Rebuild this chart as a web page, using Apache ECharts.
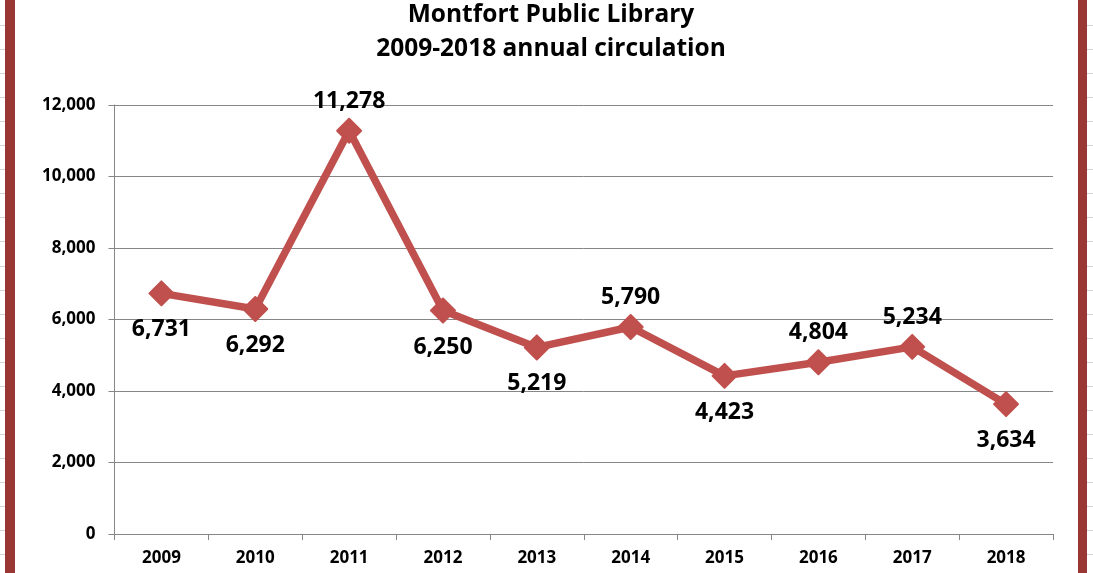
<!DOCTYPE html>
<html><head><meta charset="utf-8">
<script src="https://cdn.jsdelivr.net/npm/echarts@6/dist/echarts.min.js"></script>
<style>html,body{margin:0;padding:0;background:#fff}#c{width:1093px;height:573px}</style>
</head><body><div id="c"></div>
<script>
const years = ['2009','2010','2011','2012','2013','2014','2015','2016','2017','2018'];
const circulation = [6731, 6292, 11278, 6250, 5219, 5790, 4423, 4804, 5234, 3634];
const labelPos = ['bottom','bottom','top','bottom','bottom','top','bottom','top','top','bottom'];
const yTicks = {min: 0, max: 12000, interval: 2000};

const FONT = '"Open Sans", sans-serif';
const chart = echarts.init(document.getElementById('c'));

const deco = [
  {type:'rect', shape:{x:5,y:0,width:10,height:573}, style:{fill:'#9A3735'}, z:10},
  {type:'rect', shape:{x:1078,y:0,width:9,height:573}, style:{fill:'#9A3735'}, z:10}
];
for (let k = 0; k <= 22; k++) {
  const y = Math.round(25 + 24.05 * k) + 0.5;
  deco.push({type:'line', shape:{x1:0,y1:y,x2:5,y2:y}, style:{stroke:'#D4D4D4', lineWidth:1}});
  deco.push({type:'line', shape:{x1:1087,y1:y,x2:1093,y2:y}, style:{stroke:'#D4D4D4', lineWidth:1}});
}

chart.setOption({
  animation:false,
  backgroundColor:'#fff',
  title:{
    text:'Montfort Public Library\n2009-2018 annual circulation',
    left:546, top:-7, textAlign:'center',
    textStyle:{fontFamily:FONT, fontWeight:'bold', fontSize:24.5, color:'#000', lineHeight:34}
  },
  graphic: deco,
  grid:{left:114.5, right:40, top:105, bottom:39},
  xAxis:{
    type:'category', data: years, boundaryGap:true,
    axisLine:{lineStyle:{color:'#868686', width:1}},
    axisTick:{show:true, length:6, alignWithLabel:false, lineStyle:{color:'#868686'}},
    axisLabel:{fontFamily:FONT, fontWeight:'bold', fontSize:17, color:'#000', margin:16}
  },
  yAxis:{
    type:'value', min:yTicks.min, max:yTicks.max, interval:yTicks.interval,
    axisLine:{show:true, lineStyle:{color:'#868686', width:1}},
    axisTick:{show:true, length:6, lineStyle:{color:'#868686'}},
    splitLine:{lineStyle:{color:'#868686', width:1}},
    axisLabel:{fontFamily:FONT, fontWeight:'bold', fontSize:17, color:'#000', margin:19,
      formatter: v => v.toLocaleString('en-US')}
  },
  series:[{
    type:'line',
    data: circulation.map((v,i)=>({value:v, label:{position:labelPos[i], distance: labelPos[i]==='top'?5:12}})),
    symbol:'diamond', symbolSize:24,
    lineStyle:{color:'#C0504D', width:7.5},
    itemStyle:{color:'#C0504D', borderColor:'#C0504D', borderWidth:2, borderJoin:'round'},
    label:{show:true, fontFamily:FONT, fontWeight:'bold', fontSize:23, color:'#000',
      formatter: p => p.value.toLocaleString('en-US')}
  }]
});
</script></body></html>
